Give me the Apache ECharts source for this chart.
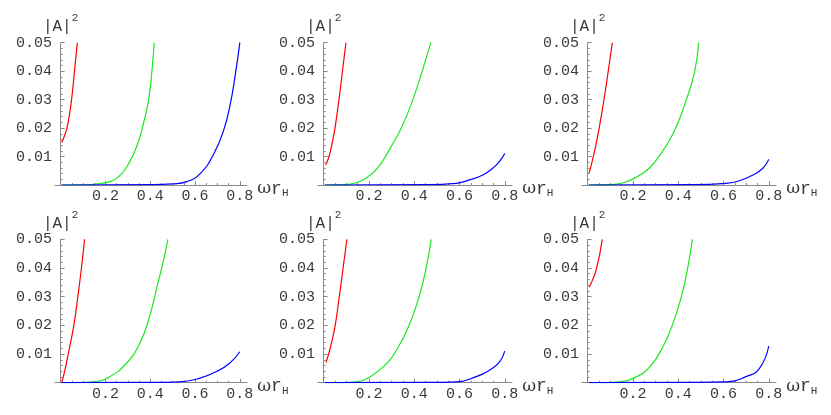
<!DOCTYPE html>
<html>
<head>
<meta charset="utf-8">
<script src="https://cdn.jsdelivr.net/npm/echarts@6/dist/echarts.min.js"></script>
<style>
html, body { margin: 0; padding: 0; background: #fff; }
#main { width: 831px; height: 415px; }
</style>
</head>
<body>
<div id="main"></div>
<script>
// tick values
var xTicks = [0.2, 0.4, 0.6, 0.8];
var yTicks = [0.01, 0.02, 0.03, 0.04, 0.05];
var xMinor = [0.05, 0.1, 0.15, 0.25, 0.3, 0.35, 0.45, 0.5, 0.55, 0.65, 0.7, 0.75];
var yMinor = [0.002, 0.004, 0.006, 0.008, 0.012, 0.014, 0.016, 0.018, 0.022, 0.024, 0.026, 0.028,
              0.032, 0.034, 0.036, 0.038, 0.042, 0.044, 0.046, 0.048];

// curves, one array per panel (left to right, top to bottom)
var redCurves = [
    [[0.005,0.0149],[0.015,0.0168],[0.027,0.0196],[0.038,0.024],[0.049,0.030],[0.062,0.040],[0.0746,0.05]],
    [[0.009,0.0070],[0.0235,0.010],[0.037,0.0145],[0.05,0.020],[0.0676,0.030],[0.083,0.040],[0.0985,0.05]],
    [[0.007,0.0043],[0.025,0.010],[0.038,0.0147],[0.051,0.020],[0.072,0.030],[0.091,0.040],[0.109,0.05]],
    [[0.004,0.0],[0.015,0.003],[0.034,0.010],[0.059,0.020],[0.077,0.030],[0.093,0.040],[0.107,0.05]],
    [[0.010,0.007],[0.022,0.010],[0.037,0.0147],[0.051,0.020],[0.069,0.030],[0.086,0.040],[0.1026,0.05]],
    [[0.007,0.0333],[0.02,0.0355],[0.04,0.040],[0.0646,0.05]]
];
var greenCurves = [
    [[0.005,0],[0.1,0.00003],[0.15,0.0003],[0.221,0.0012],[0.26,0.003],[0.296,0.0064],[0.34,0.0135],[0.37,0.0217],[0.393,0.030],[0.407,0.0395],[0.418,0.05]],
    [[0.005,0],[0.08,0.0001],[0.144,0.0008],[0.203,0.0033],[0.24,0.0062],[0.269,0.0095],[0.305,0.0145],[0.343,0.020],[0.394,0.030],[0.435,0.040],[0.4735,0.05]],
    [[0.005,0],[0.09,0.0001],[0.157,0.0008],[0.231,0.0035],[0.27,0.0058],[0.304,0.0088],[0.377,0.018],[0.436,0.030],[0.473,0.040],[0.49,0.05]],
    [[0.005,0],[0.08,0.00003],[0.145,0.0003],[0.219,0.0021],[0.293,0.0067],[0.353,0.0137],[0.397,0.023],[0.434,0.0347],[0.456,0.0415],[0.479,0.05]],
    [[0.005,0],[0.08,0.00003],[0.147,0.0003],[0.205,0.0021],[0.264,0.0056],[0.322,0.0114],[0.381,0.0207],[0.425,0.031],[0.454,0.0405],[0.475,0.05]],
    [[0.005,0],[0.08,0.00003],[0.142,0.0003],[0.216,0.0021],[0.275,0.0056],[0.333,0.0126],[0.377,0.0207],[0.414,0.030],[0.443,0.0405],[0.4625,0.05]]
];
var blueCurves = [
    [[0.005,0],[0.4,0.0001],[0.5,0.0004],[0.564,0.0012],[0.624,0.0041],[0.684,0.011],[0.728,0.0193],[0.758,0.0287],[0.781,0.0394],[0.8,0.05]],
    [[0.005,0],[0.45,0.0001],[0.585,0.0006],[0.644,0.0018],[0.703,0.0035],[0.747,0.0059],[0.776,0.0082],[0.8,0.0111]],
    [[0.005,0],[0.45,0.0001],[0.612,0.0006],[0.671,0.0015],[0.73,0.0035],[0.774,0.0059],[0.8,0.009]],
    [[0.005,0],[0.4,0.0001],[0.53,0.0003],[0.619,0.0015],[0.693,0.0038],[0.753,0.0067],[0.8,0.0108]],
    [[0.005,0],[0.45,0.0001],[0.586,0.0003],[0.674,0.0021],[0.733,0.0044],[0.777,0.0073],[0.8,0.011]],
    [[0.005,0],[0.45,0.0001],[0.612,0.0003],[0.70,0.0021],[0.759,0.005],[0.8,0.0128]]
];

var myChart = echarts.init(document.getElementById('main'));

var gridLeft = [55, 318, 582];
var gridWidth = [192, 194, 194];
var gridTop = [42.7, 239.3];
var gridHeight = [142.3, 143.4];

var axisColor = '#8a8a8a';
var textColor = '#3a3a3a';
var mono = '"Liberation Mono", "DejaVu Sans Mono", monospace';

var grids = [], xAxes = [], yAxes = [], series = [];

for (var i = 0; i < 6; i++) {
    var row = Math.floor(i / 3), col = i % 3;
    grids.push({
        left: gridLeft[col], top: gridTop[row],
        width: gridWidth[col], height: gridHeight[row],
        containLabel: false
    });
    // main x axis
    xAxes.push({
        gridIndex: i, type: 'value', position: 'bottom',
        min: -0.025, max: 0.832,
        axisLine: { onZero: true, lineStyle: { color: axisColor, width: 1 } },
        axisTick: { inside: true, length: 4, customValues: xTicks, lineStyle: { color: axisColor } },
        axisLabel: { customValues: xTicks, margin: 4, fontFamily: mono, fontSize: 15, color: textColor },
        splitLine: { show: false },
        name: '{w|ω}{r|r}{h|H}',
        nameLocation: 'end',
        nameGap: 0,
        nameTextStyle: {
            padding: [8, 0, 0, 0],
            rich: {
                w: { fontFamily: '"DejaVu Serif", serif', fontSize: 17, color: textColor, lineHeight: 20, verticalAlign: 'middle' },
                r: { fontFamily: mono, fontSize: 18, color: textColor, lineHeight: 20, verticalAlign: 'middle' },
                h: { fontFamily: mono, fontSize: 11, color: textColor, lineHeight: 20, verticalAlign: 'bottom' }
            }
        }
    });
    // minor x ticks
    xAxes.push({
        gridIndex: i, type: 'value', position: 'bottom',
        min: -0.025, max: 0.832,
        axisLine: { show: false },
        axisTick: { inside: true, length: 2, customValues: xMinor, lineStyle: { color: axisColor } },
        axisLabel: { show: false },
        splitLine: { show: false }
    });
    // main y axis
    yAxes.push({
        gridIndex: i, type: 'value', position: 'left',
        min: 0, max: 0.05,
        axisLine: { show: true, onZero: true, lineStyle: { color: axisColor, width: 1 } },
        axisTick: { show: true, inside: true, length: 4, customValues: yTicks, lineStyle: { color: axisColor } },
        axisLabel: { customValues: yTicks, margin: 3, fontFamily: mono, fontSize: 15, color: textColor },
        splitLine: { show: false },
        name: '{a||A|}{s|2}',
        nameLocation: 'end',
        nameGap: 8,
        nameTextStyle: {
            rich: {
                a: { fontFamily: mono, fontSize: 16, color: textColor, lineHeight: 22, verticalAlign: 'bottom' },
                s: { fontFamily: mono, fontSize: 11, color: textColor, lineHeight: 22, verticalAlign: 'top' }
            }
        }
    });
    // minor y ticks
    yAxes.push({
        gridIndex: i, type: 'value', position: 'left',
        min: 0, max: 0.05,
        axisLine: { show: false, onZero: true },
        axisTick: { show: true, inside: true, length: 2, customValues: yMinor, lineStyle: { color: axisColor } },
        axisLabel: { show: false },
        splitLine: { show: false }
    });

    var curves = [[redCurves[i], '#ff0000'], [greenCurves[i], '#1ee81e'], [blueCurves[i], '#0000ff']];
    curves.forEach(function (c) {
        series.push({
            type: 'line',
            xAxisIndex: 2 * i,
            yAxisIndex: 2 * i,
            data: c[0],
            showSymbol: false,
            smooth: 0.5,
            lineStyle: { color: c[1], width: 1.2 },
            itemStyle: { color: c[1] }
        });
    });
}

var option = {
    animation: false,
    backgroundColor: '#ffffff',
    grid: grids,
    xAxis: xAxes,
    yAxis: yAxes,
    series: series
};

myChart.setOption(option);
</script>
</body>
</html>
